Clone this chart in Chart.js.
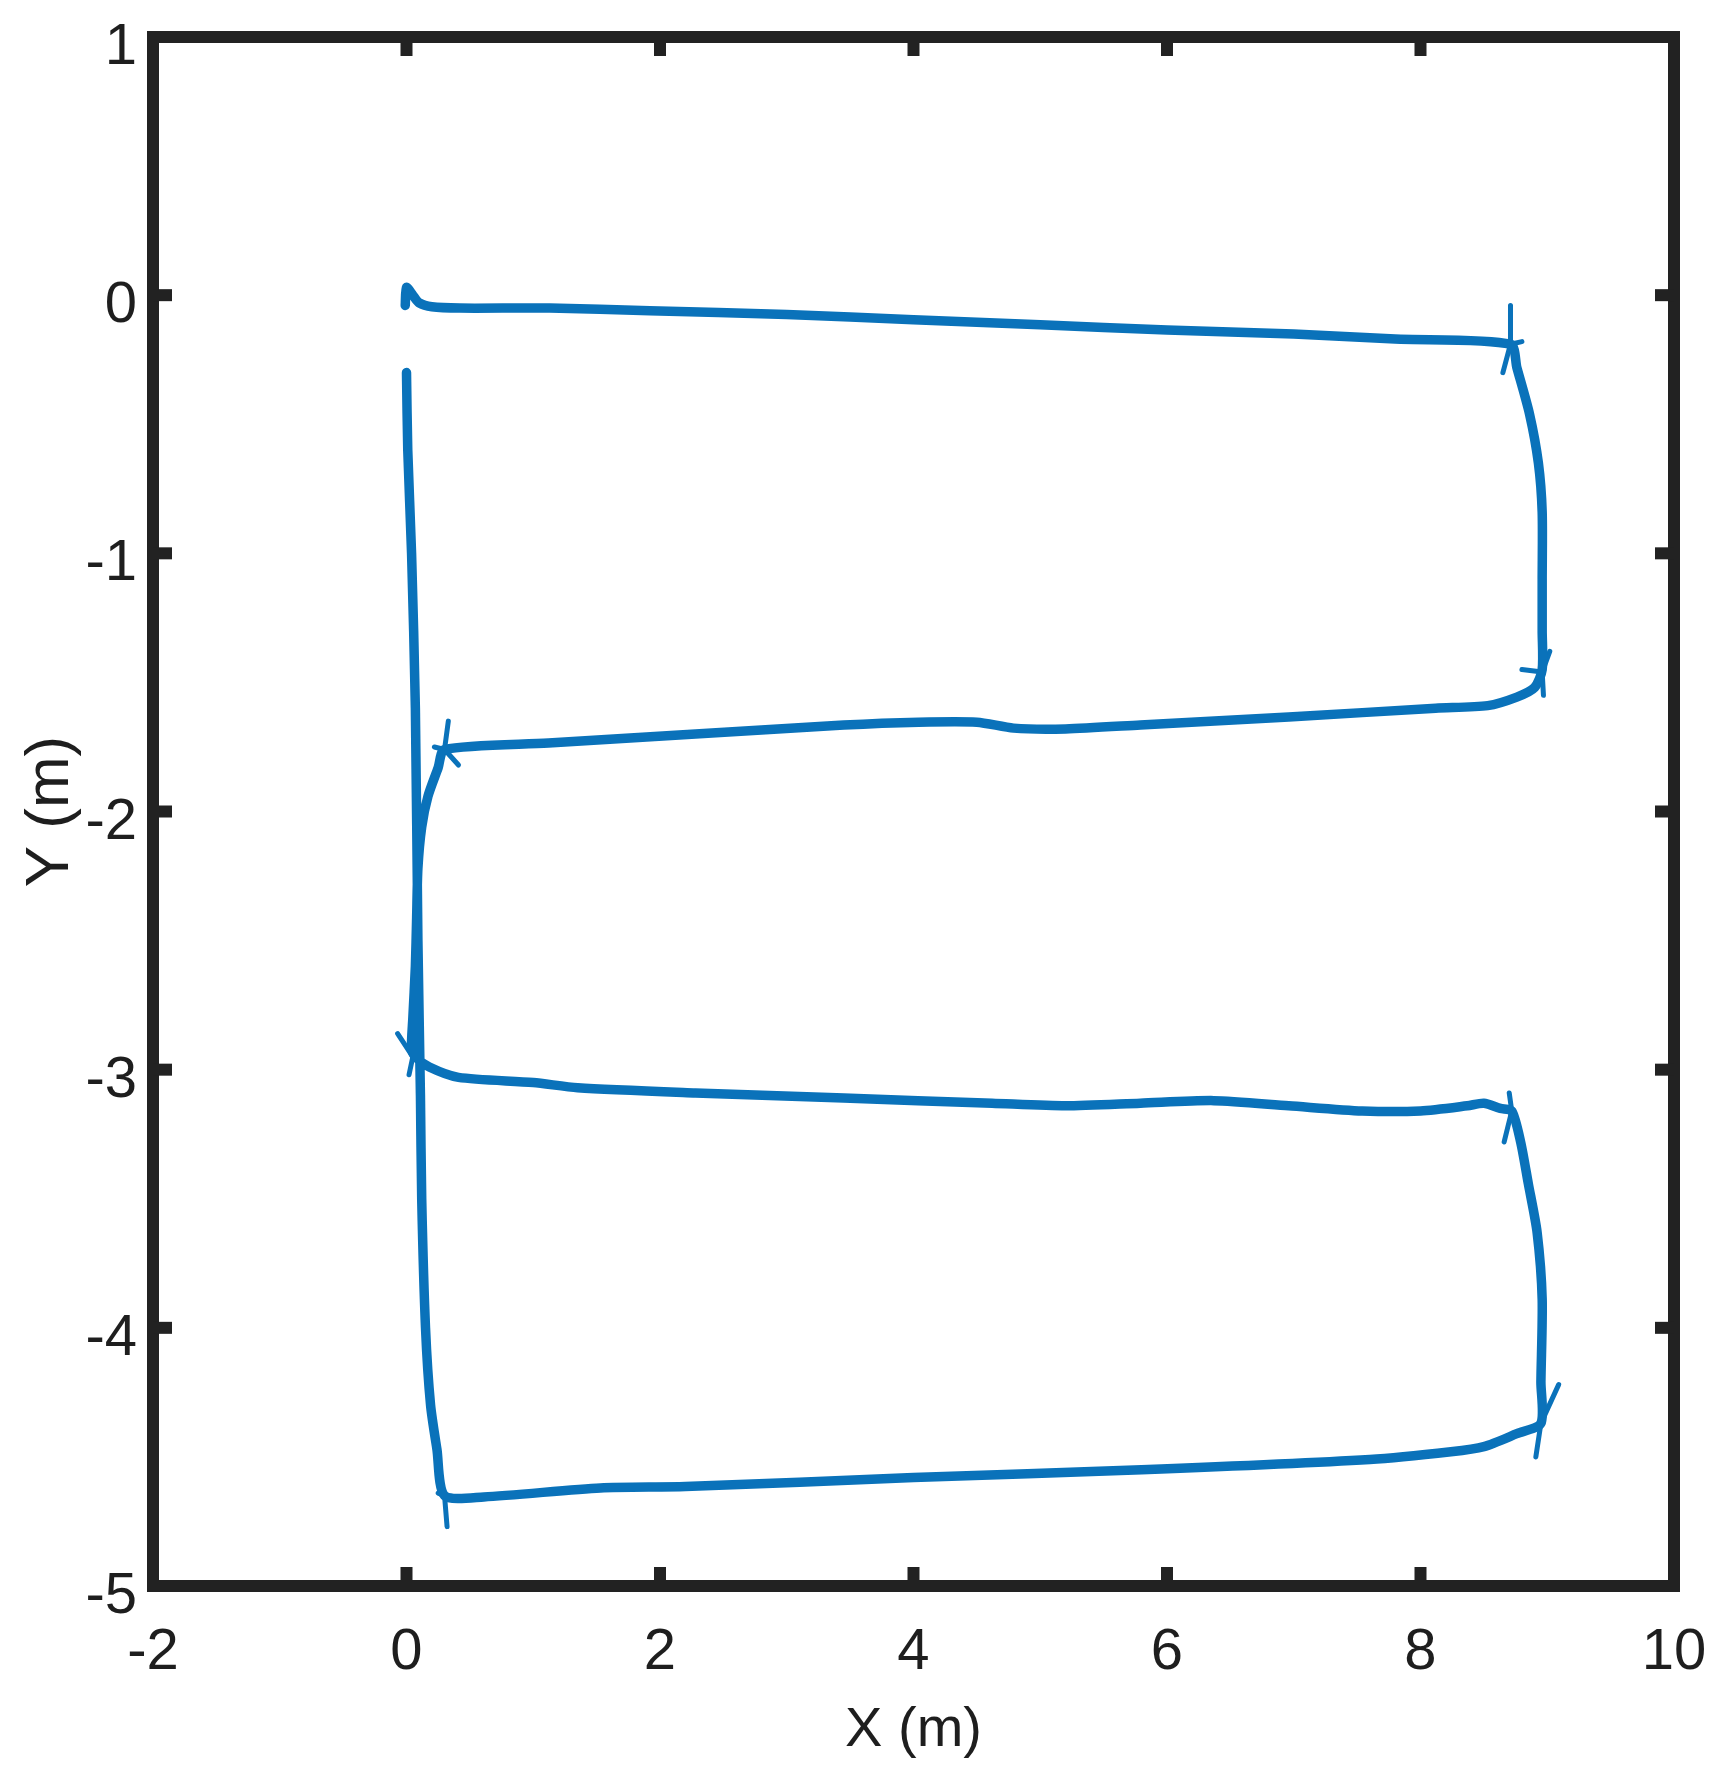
<!DOCTYPE html>
<html><head><meta charset="utf-8">
<script src="https://cdn.jsdelivr.net/npm/chart.js@4"></script>
<style>html,body{margin:0;padding:0;background:#fff}canvas{display:block}</style>
</head><body>
<canvas id="c" width="1716" height="1788"></canvas>
<script>
// ---- data ----
const xTicks = [-2, 0, 2, 4, 6, 8, 10];
const yTicks = [1, 0, -1, -2, -3, -4, -5];
const xTitle = 'X (m)';
const yTitle = 'Y (m)';

// trajectory (m)
const pathX = [
  -0.01, 0.00, 0.05, 0.10, 0.20, 0.42, 1.13, 1.92, 3.00, 4.00, 5.00, 6.00, 7.00, 7.80, 8.71,
  8.76, 8.86, 8.93, 8.96, 8.96, 8.96, 8.96,
  8.90, 8.76, 8.53, 8.12, 6.96, 5.79, 5.20, 4.79, 4.50, 4.04, 3.45, 2.28, 1.12, 0.30,
  0.25, 0.17, 0.12, 0.09, 0.08, 0.07, 0.05, 0.04,
  0.07, 0.18, 0.41, 1.00, 1.35, 2.28, 3.45, 4.62, 5.20, 5.79, 6.37, 6.96, 7.54, 8.00, 8.37, 8.50, 8.63, 8.72,
  8.79, 8.85, 8.92, 8.96, 8.95, 8.95,
  8.76, 8.50, 8.24, 7.60, 5.80, 4.00, 2.20, 1.53, 0.61, 0.30,
  0.24, 0.19, 0.15, 0.12, 0.11, 0.09, 0.07, 0.04, 0.01, 0.00
];
const pathY = [
  -0.04, 0.03, 0.00, -0.03, -0.045, -0.05, -0.05, -0.06, -0.075, -0.095, -0.115, -0.135, -0.15, -0.17, -0.19,
  -0.28, -0.46, -0.65, -0.84, -1.10, -1.30, -1.45,
  -1.52, -1.557, -1.59, -1.60, -1.634, -1.665, -1.68, -1.677, -1.654, -1.654, -1.665, -1.70, -1.735, -1.76,
  -1.83, -1.94, -2.06, -2.22, -2.41, -2.60, -2.80, -2.92,
  -2.95, -2.99, -3.03, -3.05, -3.07, -3.09, -3.11, -3.13, -3.14, -3.13, -3.12, -3.14, -3.16, -3.16, -3.14, -3.13, -3.15, -3.16,
  -3.28, -3.44, -3.63, -3.89, -4.21, -4.37,
  -4.41, -4.46, -4.48, -4.51, -4.55, -4.58, -4.615, -4.62, -4.655, -4.65,
  -4.47, -4.30, -4.00, -3.50, -3.10, -2.50, -1.60, -1.00, -0.60, -0.30
];

// arrow-head strokes at the turns (null = break)
const arrowX = [
  8.71, 8.71, null, 8.65, 8.71, 8.80, null,
  9.02, 8.96, 8.97, null, 8.80, 8.96, null,
  0.33, 0.30, 0.41, null, 0.22, 0.30, null,
  -0.07, 0.05, 0.02, null,
  8.70, 8.72, 8.66, null,
  9.09, 8.95, 8.91, null,
  0.30, 0.32, null, 0.25, 0.30
];
const arrowY = [
  -0.04, -0.19, null, -0.30, -0.19, -0.18, null,
  -1.38, -1.46, -1.55, null, -1.45, -1.46, null,
  -1.65, -1.76, -1.82, null, -1.75, -1.76, null,
  -2.86, -2.95, -3.02, null,
  -3.09, -3.16, -3.28, null,
  -4.22, -4.37, -4.50, null,
  -4.65, -4.77, null, -4.64, -4.65
];

// ---- style ----
const BLUE = '#0a72ba';
const FRAME = '#222222';
const TEXT = '#1e1e1e';
const FONT = "'Liberation Sans', Arial, Helvetica, sans-serif";

const framePlugin = {
  id: 'frame',
  afterDraw(chart) {
    const {ctx, chartArea: a, scales: {x, y}} = chart;
    ctx.save();
    ctx.strokeStyle = FRAME;
    ctx.lineWidth = 12;
    ctx.lineJoin = 'miter';
    ctx.strokeRect(a.left, a.top, a.right - a.left, a.bottom - a.top);
    ctx.fillStyle = FRAME;
    const L = 19, W = 12;
    x.ticks.forEach(t => {
      const px = x.getPixelForValue(t.value);
      ctx.fillRect(px - W / 2, a.bottom - L, W, L);
      ctx.fillRect(px - W / 2, a.top, W, L);
    });
    y.ticks.forEach(t => {
      const py = y.getPixelForValue(t.value);
      ctx.fillRect(a.left, py - W / 2, L, W);
      ctx.fillRect(a.right - L, py - W / 2, L, W);
    });
    ctx.restore();
  }
};

const whiteBg = {
  id: 'whiteBg',
  beforeDraw(chart) {
    const ctx = chart.ctx;
    ctx.save();
    ctx.fillStyle = '#fff';
    ctx.fillRect(0, 0, chart.width, chart.height);
    ctx.restore();
  }
};

function zeroPad(s) {
  s.paddingTop = 0; s.paddingBottom = 0; s.paddingLeft = 0; s.paddingRight = 0;
}

new Chart(document.getElementById('c'), {
  type: 'scatter',
  data: {
    datasets: [
      {
        data: pathX.map((v, i) => ({x: v, y: pathY[i]})),
        showLine: true, borderColor: BLUE, borderWidth: 9.5,
        pointRadius: 0, tension: 0.25, borderJoinStyle: 'round', borderCapStyle: 'round'
      },
      {
        data: arrowX.map((v, i) => (v === null ? {x: 0, y: null} : {x: v, y: arrowY[i]})),
        showLine: true, spanGaps: false, borderColor: BLUE, borderWidth: 5,
        pointRadius: 0, tension: 0, borderJoinStyle: 'round', borderCapStyle: 'round'
      }
    ]
  },
  options: {
    responsive: false,
    animation: false,
    layout: {padding: {top: 37, right: 42, left: 0, bottom: 0}},
    plugins: {legend: {display: false}, tooltip: {enabled: false}},
    scales: {
      x: {
        type: 'linear', position: 'bottom', min: -2, max: 10,
        afterBuildTicks: s => { s.ticks = xTicks.map(v => ({value: v})); },
        afterFit: s => { s.height = 202; zeroPad(s); },
        grid: {display: false, drawTicks: false},
        border: {display: false},
        ticks: {color: TEXT, font: {family: FONT, size: 58}, padding: 32, maxRotation: 0, autoSkip: false,
                callback: v => String(v)},
        title: {display: true, text: xTitle, color: TEXT, font: {family: FONT, size: 56},
                padding: {top: 0, bottom: 24}}
      },
      y: {
        type: 'linear', position: 'left', min: -5, max: 1,
        afterBuildTicks: s => { s.ticks = yTicks.map(v => ({value: v})); },
        afterFit: s => { s.width = 153; zeroPad(s); },
        grid: {display: false, drawTicks: false},
        border: {display: false},
        ticks: {color: TEXT, font: {family: FONT, size: 58}, padding: 16, labelOffset: 11, autoSkip: false,
                callback: v => String(v)},
        title: {display: true, text: yTitle, color: TEXT, font: {family: FONT, size: 62},
                padding: {top: 14, bottom: 0}}
      }
    }
  },
  plugins: [whiteBg, framePlugin]
});
</script>
</body></html>
